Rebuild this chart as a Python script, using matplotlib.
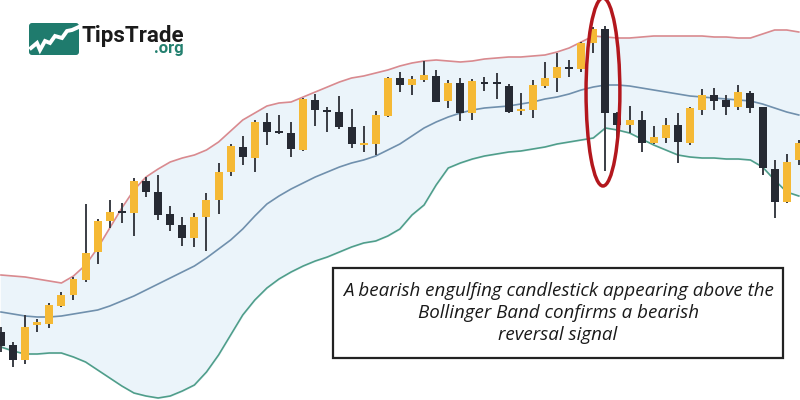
import numpy as np
import matplotlib
matplotlib.use("Agg")
import matplotlib.pyplot as plt
from matplotlib.patches import Ellipse, Rectangle, FancyBboxPatch

# OHLC of the candles (arbitrary price units)
opens = [68, 55, 40, 75, 76, 94, 105, 120, 148, 179,
         189, 187, 219, 208, 186, 175, 162, 183, 200, 228,
         253, 242, 278, 269, 267, 250, 300, 290, 288, 273,
         255, 256, 284, 322, 315, 320, 324, 299, 317, 287,
         318, 318, 314, 289, 290, 314, 322, 333, 331, 357,
         371, 287, 275, 280, 257, 262, 275, 257, 290, 305,
         300, 293, 307, 293, 231, 198, 240]
highs = [73, 58, 85, 81, 97, 108, 123, 196, 181, 200,
         197, 222, 223, 225, 194, 183, 187, 207, 237, 256,
         264, 280, 287, 285, 278, 302, 306, 293, 304, 291,
         274, 289, 323, 328, 324, 339, 330, 320, 322, 321,
         323, 327, 316, 307, 320, 338, 347, 340, 358, 373,
         374, 288, 294, 289, 274, 282, 287, 293, 311, 312,
         305, 315, 309, 293, 240, 246, 260]
lows = [48, 33, 36, 68, 72, 93, 100, 118, 136, 172,
        177, 164, 203, 180, 169, 154, 153, 149, 186, 224,
        235, 228, 255, 266, 243, 249, 274, 268, 271, 252,
        248, 245, 283, 308, 305, 318, 298, 292, 279, 280,
        309, 301, 287, 285, 282, 312, 308, 323, 328, 347,
        229, 252, 267, 248, 256, 257, 237, 255, 285, 290,
        285, 290, 287, 225, 182, 197, 235]
closes = [54, 40, 73, 78, 95, 105, 121, 147, 179, 188,
          187, 219, 208, 185, 175, 162, 183, 200, 228, 254,
          243, 278, 268, 267, 251, 301, 290, 288, 273, 256,
          256, 285, 322, 315, 321, 325, 298, 317, 287, 319,
          316, 316, 288, 291, 315, 322, 333, 331, 357, 371,
          287, 275, 280, 257, 263, 275, 258, 292, 305, 299,
          293, 308, 292, 232, 198, 238, 257]

# bollinger bands
upper = [125, 124, 123, 121, 119, 117, 124, 135, 152, 172,
         192, 210, 223, 231, 238, 242, 245, 250, 258, 269,
         280, 287, 294, 297, 298, 303, 308, 313, 318, 322,
         324, 327, 330, 334, 337, 339, 340, 339, 338, 339,
         341, 342, 343, 343, 344, 345, 348, 352, 358, 364,
         363, 362, 362, 363, 364, 364, 364, 364, 364, 363,
         363, 362, 362, 366, 370, 370, 368]
middle = [88, 86, 84, 83, 83, 84, 86, 88, 90, 94,
          99, 104, 110, 116, 122, 128, 134, 142, 151, 160,
          171, 184, 196, 204, 211, 217, 223, 228, 233, 237,
          240, 244, 250, 256, 264, 272, 278, 283, 287, 290,
          292, 293, 294, 296, 298, 301, 303, 306, 310, 313,
          315, 315, 314, 312, 310, 308, 306, 304, 303, 302,
          301, 300, 299, 296, 292, 288, 285]
lower = [53, 49, 46, 46, 47, 47, 43, 38, 30, 22,
         14, 7, 4, 2, 4, 9, 15, 28, 45, 65,
         85, 100, 112, 121, 128, 134, 139, 143, 148, 153,
         157, 159, 164, 171, 185, 195, 215, 232, 237, 241,
         244, 246, 248, 249, 251, 253, 256, 258, 260, 262,
         272, 270, 267, 261, 255, 250, 245, 243, 242, 242,
         241, 241, 240, 233, 220, 208, 204]

signal_idx = 50  # the bearish engulfing candle
note = ("A bearish engulfing candlestick appearing above the\n"
        "Bollinger Band confirms a bearish\n"
        "reversal signal")

YELLOW = "#f5b935"
DARK = "#262a33"

o = np.array(opens)
c = np.array(closes)
x = np.arange(len(o))

fig = plt.figure(figsize=(8, 4), dpi=100)
ax = fig.add_axes([0, 0, 1, 1])
ax.set_xlim(-0.08, 66.1)
ax.set_ylim(0, 400)
ax.axis("off")

# bands
ax.fill_between(x, lower, upper, color="#ebf4fa", zorder=0)
ax.plot(x, upper, color="#d98a8f", lw=1.2, zorder=1)
ax.plot(x, middle, color="#7090ad", lw=1.2, zorder=1)
ax.plot(x, lower, color="#4f9e8a", lw=1.2, zorder=1)

# candles
cols = [YELLOW if cc >= oo else DARK for oo, cc in zip(o, c)]
ax.vlines(x, lows, highs, color="#3a3d44", lw=1.4, zorder=2)
body_h = np.maximum(np.abs(c - o), 1.6)
ax.bar(x, body_h, bottom=np.minimum(o, c), width=0.66, color=cols, zorder=3)

# red ellipse around signal candle
ax.add_patch(Ellipse((signal_idx - 0.2, 308), 2.8, 188, fill=False,
                     edgecolor="#b3171d", lw=2.5, zorder=4))

# overlay in pixel coordinates for logo and note
ov = fig.add_axes([0, 0, 1, 1])
ov.set_xlim(0, 800)
ov.set_ylim(400, 0)
ov.axis("off")
ov.patch.set_alpha(0)

ov.add_patch(FancyBboxPatch((29, 23), 50, 32, boxstyle="round,pad=0,rounding_size=3",
                            facecolor="#1f7b6d", edgecolor="none"))
zz_x = [31, 37, 40, 45, 50, 55, 62, 67, 72, 81]
zz_y = [48, 43, 50, 41, 43, 36, 38, 31, 30, 26]
ov.plot(zz_x, zz_y, color="white", lw=2.8, solid_joinstyle="miter")
ov.text(82, 42, "TipsTrade", fontsize=16, fontweight="bold",
        family=["Roboto", "DejaVu Sans"], color="#1b1b1b", va="baseline", ha="left")
ov.text(184, 53, ".org", fontsize=12, fontweight="bold",
        family=["Roboto", "DejaVu Sans"], color="#23806f", va="baseline", ha="right")

ov.add_patch(Rectangle((333, 268), 450, 90, facecolor="white",
                       edgecolor="#222222", lw=1.6, zorder=5))
ov.text(558, 313, note, fontsize=13.5, style="italic", family="Open Sans",
        ha="center", va="center", linespacing=1.3, color="#1a1a1a", zorder=6)

fig.savefig("out.png", dpi=100)
